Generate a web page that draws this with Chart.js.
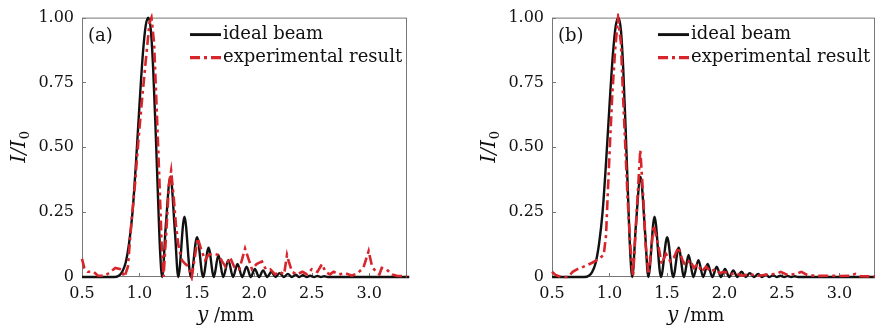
<!DOCTYPE html>
<html>
<head>
<meta charset="utf-8">
<script src="https://cdn.jsdelivr.net/npm/chart.js@4.4.0/dist/chart.umd.min.js"></script>
<style>
  html, body { margin: 0; padding: 0; background: #fff; overflow: hidden; }
  .panel { position: absolute; top: 0; height: 328px; }
  #panelA { left: 0; width: 440px; }
  #panelB { left: 470px; width: 405px; }
</style>
</head>
<body>
<div class="panel" id="panelA"><canvas id="chartA"></canvas></div>
<div class="panel" id="panelB"><canvas id="chartB"></canvas></div>
<script>
const xTicks = [0.5, 1.0, 1.5, 2.0, 2.5, 3.0];
const yTicks = [0, 0.25, 0.5, 0.75, 1.0];
const yTickLabels = ['0', '0.25', '0.50', '0.75', '1.00'];
const legendLabels = ['ideal beam', 'experimental result'];

// ideal beam (same in both panels)
const idealX = [0.50, 0.78, 0.82, 0.85, 0.88, 0.91, 0.94, 0.97, 1.00, 1.03, 1.055, 1.078, 1.10, 1.12, 1.14, 1.16, 1.18, 1.198,
  1.23, 1.27, 1.31, 1.338, 1.392, 1.448, 1.502, 1.555, 1.602, 1.648, 1.688, 1.73, 1.774, 1.815, 1.854, 1.895,
  1.933, 1.97, 2.005, 2.042, 2.077, 2.113, 2.149, 2.185, 2.221, 2.257, 2.293, 2.327, 2.36, 2.392, 2.424, 2.455,
  2.487, 2.52, 2.55, 2.58, 2.61, 2.64, 3.35];
const idealY = [0, 0, 0.005, 0.02, 0.055, 0.13, 0.25, 0.44, 0.66, 0.86, 0.97, 1.0, 0.95, 0.80, 0.58, 0.33, 0.10, 0,
  0.2, 0.387, 0.17, 0, 0.232, 0, 0.153, 0, 0.113, 0, 0.085, 0, 0.065, 0, 0.05, 0,
  0.04, 0, 0.031, 0, 0.025, 0, 0.02, 0, 0.015, 0, 0.012, 0, 0.009, 0, 0.007, 0,
  0.005, 0, 0.004, 0, 0.003, 0, 0];

// experimental result, panel (a)
const expAX = [0.50, 0.52, 0.55, 0.60, 0.64, 0.70, 0.75, 0.79, 0.84, 0.87, 0.90, 0.93, 0.962, 0.99, 1.02, 1.05, 1.087, 1.105,
  1.128, 1.151, 1.173, 1.193, 1.21, 1.235, 1.258, 1.276, 1.30, 1.318, 1.34, 1.37, 1.40, 1.43, 1.456, 1.48, 1.508,
  1.535, 1.572, 1.60, 1.645, 1.69, 1.72, 1.75, 1.79, 1.83, 1.87, 1.92, 1.95, 1.98, 2.02, 2.067, 2.10, 2.14, 2.18,
  2.22, 2.26, 2.285, 2.30, 2.33, 2.37, 2.42, 2.46, 2.50, 2.55, 2.59, 2.62, 2.66, 2.69, 2.74, 2.79, 2.85, 2.90,
  2.95, 2.996, 3.026, 3.06, 3.09, 3.11, 3.15, 3.20, 3.24, 3.33];
const expAY = [0.07, 0.035, 0.02, 0.02, 0.005, 0.005, 0.02, 0.035, 0.03, 0.0, 0.04, 0.21, 0.36, 0.52, 0.67, 0.81, 0.977, 1.0,
  0.9, 0.64, 0.386, 0.13, 0.0, 0.18, 0.36, 0.41, 0.3, 0.2, 0.12, 0.065, 0.05, 0.04, 0.0, 0.07, 0.15,
  0.11, 0.065, 0.085, 0.09, 0.085, 0.06, 0.04, 0.075, 0.035, 0.03, 0.11, 0.07, 0.03, 0.05, 0.06, 0.03, 0.03, 0.01,
  0.02, 0.01, 0.085, 0.06, 0.02, 0.01, 0.02, 0.01, 0.03, 0.02, 0.05, 0.02, 0.01, 0.02, 0.01, 0.015, 0.005, 0.015,
  0.035, 0.1, 0.04, 0.02, 0.01, 0.035, 0.03, 0.01, 0.005, 0.002];

// experimental result, panel (b)
const expBX = [0.50, 0.53, 0.58, 0.64, 0.68, 0.72, 0.76, 0.80, 0.85, 0.90, 0.95, 0.97, 0.985, 1.005, 1.025, 1.05, 1.075,
  1.10, 1.117, 1.137, 1.157, 1.18, 1.205, 1.238, 1.268, 1.295, 1.315, 1.34, 1.385, 1.425, 1.455, 1.49, 1.53, 1.56,
  1.60, 1.635, 1.66, 1.70, 1.735, 1.77, 1.80, 1.84, 1.88, 1.92, 1.96, 2.00, 2.05, 2.10, 2.15, 2.22, 2.30, 2.38,
  2.45, 2.49, 2.55, 2.62, 2.67, 2.72, 2.80, 2.90, 3.00, 3.10, 3.14, 3.18, 3.31];
const expBY = [0.02, 0.008, 0.0, 0.0, 0.02, 0.03, 0.037, 0.045, 0.055, 0.068, 0.085, 0.16, 0.32, 0.52, 0.71, 0.88, 1.0,
  0.9, 0.71, 0.51, 0.31, 0.13, 0.0, 0.26, 0.49, 0.3, 0.12, 0.01, 0.2, 0.12, 0.05, 0.09, 0.06, 0.075,
  0.115, 0.065, 0.045, 0.065, 0.035, 0.05, 0.02, 0.04, 0.02, 0.03, 0.015, 0.02, 0.01, 0.015, 0.005, 0.01, 0.005, 0.01,
  0.012, 0.02, 0.008, 0.012, 0.02, 0.008, 0.004, 0.005, 0.004, 0.005, 0.012, 0.003, 0.002];

const SERIF = '"DejaVu Serif", "Liberation Serif", serif';
const RED = '#d8252b';

function toPoints(xs, ys) {
  return xs.map((x, i) => ({ x: x, y: ys[i] }));
}

const decoPlugin = {
  id: 'deco',
  beforeDatasetsDraw(chart) {
    const ctx = chart.ctx;
    const a = chart.chartArea;
    ctx.save();
    ctx.strokeStyle = '#777';
    ctx.lineWidth = 1;
    ctx.strokeRect(a.left + 0.5, a.top + 0.5, a.right - a.left - 1, a.bottom - a.top - 1);
    // small inward ticks
    ctx.beginPath();
    xTicks.forEach(v => {
      const p = Math.round(chart.scales.x.getPixelForValue(v)) + 0.5;
      ctx.moveTo(p, a.bottom);
      ctx.lineTo(p, a.bottom - 4);
    });
    yTicks.forEach(v => {
      const p = Math.round(chart.scales.y.getPixelForValue(v)) + 0.5;
      ctx.moveTo(a.left, p);
      ctx.lineTo(a.left + 4, p);
    });
    ctx.stroke();
    ctx.restore();
  },
  afterDraw(chart, args, opts) {
    const ctx = chart.ctx;
    const a = chart.chartArea;
    ctx.save();
    ctx.fillStyle = '#111';
    ctx.textBaseline = 'middle';

    // panel label
    ctx.font = '18px ' + SERIF;
    ctx.textAlign = 'left';
    ctx.fillText(opts.label, a.left + 6, a.top + 19);

    // legend
    chart.data.datasets.forEach((ds, i) => {
      const y = a.top + 17 + i * 23;
      ctx.beginPath();
      ctx.strokeStyle = ds.borderColor;
      ctx.lineWidth = ds.borderWidth + 0.5;
      ctx.setLineDash(ds.borderDash || []);
      ctx.moveTo(a.right - 217, y);
      ctx.lineTo(a.right - 186, y);
      ctx.stroke();
      ctx.setLineDash([]);
      ctx.fillText(legendLabels[i], a.right - 184, y);
    });

    // x axis title: italic y + " /mm"
    const cx = chart.scales.x.getPixelForValue(1.75);
    const ty = a.bottom + 39;
    ctx.font = 'italic 20px ' + SERIF;
    const w1 = ctx.measureText('y').width;
    ctx.font = '18px ' + SERIF;
    const w2 = ctx.measureText(' /mm').width;
    let x0 = cx - (w1 + w2) / 2;
    ctx.font = 'italic 20px ' + SERIF;
    ctx.fillText('y', x0, ty);
    ctx.font = '18px ' + SERIF;
    ctx.fillText(' /mm', x0 + w1, ty);

    // y axis title: I/I0, rotated
    ctx.translate(a.left - 62, (a.top + a.bottom) / 2);
    ctx.rotate(-Math.PI / 2);
    ctx.font = 'italic 20px ' + SERIF;
    const m1 = ctx.measureText('I/I').width;
    ctx.font = '13px ' + SERIF;
    const m2 = ctx.measureText('0').width;
    const s = -(m1 + m2) / 2;
    ctx.font = 'italic 20px ' + SERIF;
    ctx.fillText('I/I', s, 0);
    ctx.font = '13px ' + SERIF;
    ctx.fillText('0', s + m1 + 1, 6);
    ctx.restore();
  }
};

function makeChart(canvasId, expX, expY, xMax, yWidth, padRight, label) {
  return new Chart(document.getElementById(canvasId).getContext('2d'), {
    type: 'line',
    data: {
      datasets: [{
        label: legendLabels[0],
        data: toPoints(idealX, idealY),
        borderColor: '#111',
        borderWidth: 2.4,
        pointRadius: 0,
        cubicInterpolationMode: 'monotone',
        order: 1,
        clip: 4
      }, {
        label: legendLabels[1],
        data: toPoints(expX, expY),
        borderColor: RED,
        borderWidth: 2.6,
        borderDash: [10, 4, 3, 4],
        pointRadius: 0,
        tension: 0,
        order: 0,
        clip: 4
      }]
    },
    options: {
      responsive: true,
      maintainAspectRatio: false,
      animation: false,
      layout: { padding: { top: 17, right: padRight, bottom: 0, left: 0 } },
      plugins: {
        legend: { display: false },
        tooltip: { enabled: false },
        deco: { label: label }
      },
      scales: {
        x: {
          type: 'linear',
          min: 0.5,
          max: xMax,
          afterBuildTicks: s => { s.ticks = xTicks.map(v => ({ value: v })); },
          afterFit: s => { s.height = 51; },
          grid: { display: false, drawTicks: false },
          border: { display: false },
          ticks: {
            font: { family: SERIF, size: 16 },
            color: '#111',
            padding: 7,
            maxRotation: 0,
            autoSkip: false,
            callback: v => v.toFixed(1)
          }
        },
        y: {
          min: 0,
          max: 1,
          afterBuildTicks: s => { s.ticks = yTicks.map(v => ({ value: v })); },
          afterFit: s => { s.width = yWidth; },
          grid: { display: false, drawTicks: false },
          border: { display: false },
          ticks: {
            font: { family: SERIF, size: 16 },
            color: '#111',
            padding: 8,
            autoSkip: false,
            callback: v => yTickLabels[yTicks.indexOf(v)]
          }
        }
      }
    },
    plugins: [decoPlugin]
  });
}

makeChart('chartA', expAX, expAY, 3.33, 82, 33, '(a)');
makeChart('chartB', expBX, expBY, 3.31, 82, 0, '(b)');
</script>
</body>
</html>
